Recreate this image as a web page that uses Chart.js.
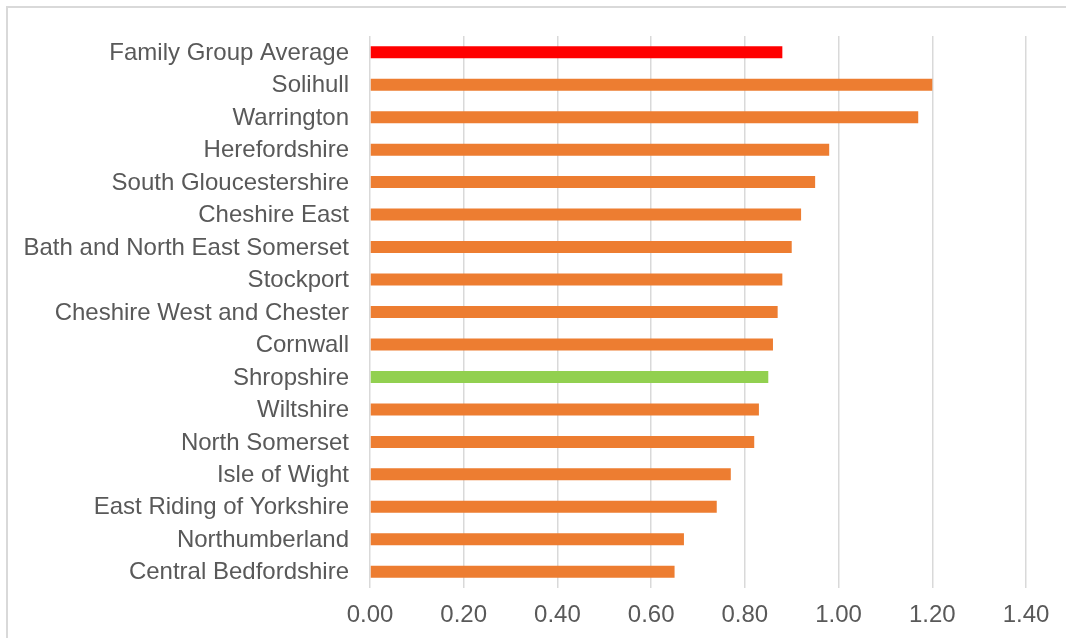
<!DOCTYPE html>
<html>
<head>
<meta charset="utf-8">
<script src="https://cdn.jsdelivr.net/npm/chart.js@4/dist/chart.umd.min.js"></script>
<style>
  html, body { margin: 0; padding: 0; background: #fff; }
  #wrap { width: 1066px; height: 638px; }
</style>
</head>
<body>
<div id="wrap"><canvas id="salesChart"></canvas></div>
<script>
// categories top to bottom, as in the picture
const areas = [
  "Family Group Average", "Solihull", "Warrington", "Herefordshire",
  "South Gloucestershire", "Cheshire East", "Bath and North East Somerset",
  "Stockport", "Cheshire West and Chester", "Cornwall", "Shropshire",
  "Wiltshire", "North Somerset", "Isle of Wight", "East Riding of Yorkshire",
  "Northumberland", "Central Bedfordshire"
];
const density = [
  0.88, 1.20, 1.17, 0.98,
  0.95, 0.92, 0.90,
  0.88, 0.87, 0.86, 0.85,
  0.83, 0.82, 0.77, 0.74,
  0.67, 0.65
];
const xTicks = [0, 0.2, 0.4, 0.6, 0.8, 1.0, 1.2, 1.4];

const averageLabel = "Family Group Average";
const homeLabel = "Shropshire";

function barColour(name)
{
  if (name === averageLabel) return "#FF0000";
  if (name === homeLabel) return "#92D050";
  return "#ED7D31";
}

// thin grey frame round the chart like the office export
const framePlugin = {
  id: "frame",
  beforeDraw(chart) {
    const ctx = chart.ctx;
    ctx.save();
    ctx.strokeStyle = "#d9d9d9";
    ctx.lineWidth = 2;
    ctx.beginPath();
    ctx.moveTo(7, chart.height + 2);
    ctx.lineTo(7, 7);
    ctx.lineTo(chart.width + 2, 7);
    ctx.stroke();
    ctx.restore();
  }
};

const ctx = document.getElementById("salesChart").getContext("2d");
new Chart(ctx, {
  type: "bar",
  data: {
    labels: areas,
    datasets: [{
      label: "Sales density",
      data: density,
      backgroundColor: areas.map(barColour),
      borderWidth: 0,
      barPercentage: 0.37,
      categoryPercentage: 1.0
    }]
  },
  options: {
    indexAxis: "y",
    responsive: true,
    maintainAspectRatio: false,
    animation: false,
    layout: { padding: { top: 36, right: 40, bottom: 0, left: 0 } },
    plugins: {
      legend: { display: false },
      tooltip: { enabled: false }
    },
    scales: {
      x: {
        min: 0,
        max: 1.4,
        afterBuildTicks: (scale) => { scale.ticks = xTicks.map(v => ({ value: v })); },
        afterFit: (scale) => { scale.height = 50; },
        grid: { color: "#d9d9d9", lineWidth: 1.5, drawTicks: false },
        border: { display: false },
        ticks: {
          padding: 13,
          color: "#595959",
          font: { family: "'Liberation Sans', Arial, sans-serif", size: 24 },
          callback: (v) => Number(v).toFixed(2)
        }
      },
      y: {
        afterFit: (scale) => { scale.width = 370; },
        grid: { display: false, drawTicks: false },
        border: { display: false },
        ticks: {
          padding: 21,
          labelOffset: 1,
          color: "#595959",
          autoSkip: false,
          font: { family: "'Liberation Sans', Arial, sans-serif", size: 24 }
        }
      }
    }
  },
  plugins: [framePlugin]
});
</script>
</body>
</html>
